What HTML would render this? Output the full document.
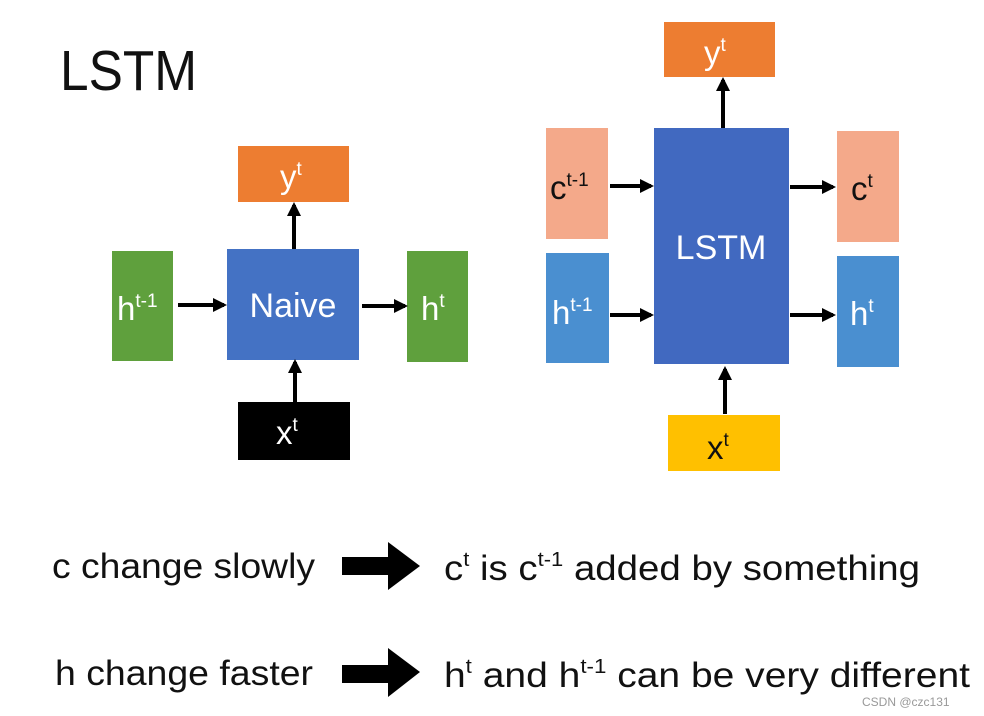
<!DOCTYPE html>
<html><head><meta charset="utf-8"><style>
html,body{margin:0;padding:0;background:#fff;}
svg{display:block;font-family:"Liberation Sans",sans-serif;}
</style></head><body>
<svg width="984" height="716" viewBox="0 0 984 716" xmlns="http://www.w3.org/2000/svg">
<defs>
<marker id="ah" markerWidth="14" markerHeight="14" refX="11" refY="7" orient="auto" markerUnits="userSpaceOnUse">
<path d="M0,0 L14,7 L0,14 z" fill="#000"/></marker>
</defs>
<text x="60" y="90" font-size="57" fill="#111" textLength="137" lengthAdjust="spacingAndGlyphs">LSTM</text>

<!-- Naive diagram -->
<rect x="238" y="146" width="111" height="56" fill="#ED7D31"/>
<text x="280" y="188" font-size="33" fill="#fff">y<tspan font-size="19" dy="-13">t</tspan></text>
<rect x="112" y="251" width="61" height="110" fill="#5FA03D"/>
<text x="117" y="320" font-size="33" fill="#fff">h<tspan font-size="19" dy="-13">t-1</tspan></text>
<rect x="227" y="249" width="132" height="111" fill="#4472C4"/>
<text x="293" y="317" font-size="34" fill="#fff" text-anchor="middle">Naive</text>
<rect x="407" y="251" width="61" height="111" fill="#5FA03D"/>
<text x="421" y="320" font-size="33" fill="#fff">h<tspan font-size="19" dy="-13">t</tspan></text>
<rect x="238" y="402" width="112" height="58" fill="#000"/>
<text x="276" y="444" font-size="33" fill="#fff">x<tspan font-size="19" dy="-13">t</tspan></text>
<g stroke="#000" stroke-width="4" marker-end="url(#ah)">
<line x1="294" y1="249" x2="294" y2="205"/>
<line x1="178" y1="305" x2="224" y2="305"/>
<line x1="362" y1="306" x2="405" y2="306"/>
<line x1="295" y1="402" x2="295" y2="362"/>
</g>

<!-- LSTM diagram -->
<rect x="664" y="22" width="111" height="55" fill="#ED7D31"/>
<text x="704" y="64" font-size="33" fill="#fff">y<tspan font-size="19" dy="-13">t</tspan></text>
<rect x="546" y="128" width="62" height="111" fill="#F4A98A"/>
<text x="550" y="199" font-size="33" fill="#111">c<tspan font-size="19" dy="-13">t-1</tspan></text>
<rect x="546" y="253" width="63" height="110" fill="#4A8FD0"/>
<text x="552" y="324" font-size="33" fill="#fff">h<tspan font-size="19" dy="-13">t-1</tspan></text>
<rect x="654" y="128" width="135" height="236" fill="#4169C0"/>
<text x="721" y="259" font-size="34" fill="#fff" text-anchor="middle">LSTM</text>
<rect x="837" y="131" width="62" height="111" fill="#F4A98A"/>
<text x="851" y="200" font-size="33" fill="#111">c<tspan font-size="19" dy="-13">t</tspan></text>
<rect x="837" y="256" width="62" height="111" fill="#4A8FD0"/>
<text x="850" y="325" font-size="33" fill="#fff">h<tspan font-size="19" dy="-13">t</tspan></text>
<rect x="668" y="415" width="112" height="56" fill="#FFC000"/>
<text x="707" y="459" font-size="33" fill="#111">x<tspan font-size="19" dy="-13">t</tspan></text>
<g stroke="#000" stroke-width="4" marker-end="url(#ah)">
<line x1="723" y1="128" x2="723" y2="80"/>
<line x1="610" y1="186" x2="651" y2="186"/>
<line x1="610" y1="315" x2="651" y2="315"/>
<line x1="790" y1="187" x2="833" y2="187"/>
<line x1="790" y1="315" x2="833" y2="315"/>
<line x1="725" y1="414" x2="725" y2="369"/>
</g>

<!-- bottom text -->
<text x="52" y="578" font-size="35" fill="#111" textLength="263" lengthAdjust="spacingAndGlyphs">c change slowly</text>
<path d="M342,557 L388,557 L388,542 L420,566 L388,590 L388,575 L342,575 z" fill="#000"/>
<text x="444" y="580" font-size="35" fill="#111" textLength="476" lengthAdjust="spacingAndGlyphs">c<tspan font-size="20" dy="-14">t</tspan><tspan dy="14"> is c</tspan><tspan font-size="20" dy="-14">t-1</tspan><tspan dy="14"> added by something</tspan></text>

<text x="55" y="685" font-size="35" fill="#111" textLength="258" lengthAdjust="spacingAndGlyphs">h change faster</text>
<path d="M342,665 L388,665 L388,648 L420,672 L388,697 L388,683 L342,683 z" fill="#000"/>
<text x="444" y="687" font-size="35" fill="#111" textLength="526" lengthAdjust="spacingAndGlyphs">h<tspan font-size="20" dy="-14">t</tspan><tspan dy="14"> and h</tspan><tspan font-size="20" dy="-14">t-1</tspan><tspan dy="14"> can be very different</tspan></text>

<text x="862" y="706" font-size="12" fill="#999">CSDN @czc131</text>
</svg>
</body></html>
